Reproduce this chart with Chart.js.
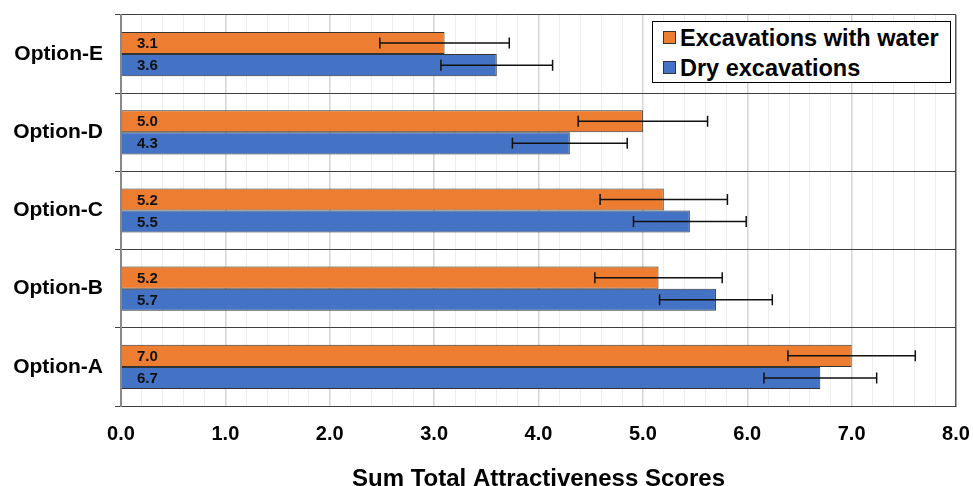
<!DOCTYPE html>
<html lang="en">
<head>
  <meta charset="UTF-8" />
  <title>Sum Total Attractiveness Scores</title>
  <script src="https://cdn.jsdelivr.net/npm/chart.js"></script>
  <style>
    body {
      margin: 0;
      background-color: #ffffff;
      font-family: "Liberation Sans", Arial, sans-serif;
    }
    .wrap {
      position: relative;
      width: 973px;
      height: 486px;
    }
    .legend {
      position: absolute;
      left: 652px;
      top: 21px;
      width: 297px;
      height: 60px;
      border: 1px solid #000;
      background: #fff;
      box-sizing: content-box;
    }
    .legend .item {
      position: absolute;
      left: 10px;
      font-weight: bold;
      font-size: 23.5px;
      color: #000;
      white-space: nowrap;
      line-height: 26px;
    }
    .legend .swatch {
      display: inline-block;
      width: 11px;
      height: 11px;
      border: 1px solid #333;
      margin-right: 4px;
      vertical-align: 2px;
    }
  </style>
</head>
<body>
  <div class="wrap">
    <canvas id="scoreChart"></canvas>
    <div class="legend" id="legend"></div>
  </div>

  <script>
    const categories = ["Option-E", "Option-D", "Option-C", "Option-B", "Option-A"];
    const seriesNames = ["Excavations with water", "Dry excavations"];
    const waterScores = [3.1, 5.0, 5.2, 5.15, 7.0];
    const dryScores = [3.6, 4.3, 5.45, 5.7, 6.7];
    const waterErrors = [0.62, 0.62, 0.61, 0.61, 0.61];
    const dryErrors = [0.535, 0.55, 0.54, 0.54, 0.54];
    const seriesColors = ["#ED7D31", "#4472C4"];
    const xMin = 0, xMax = 8, minorStep = 0.2;

    const isWhole = v => Math.abs(v - Math.round(v)) < 1e-6;

    // legend box (html so it can sit inside the plot with a border)
    const legendEl = document.getElementById("legend");
    seriesNames.forEach((name, i) => {
      const item = document.createElement("div");
      item.className = "item";
      item.style.top = (3 + i * 30) + "px";
      item.innerHTML = `<span class="swatch" style="background:${seriesColors[i]}"></span>${name}`;
      legendEl.appendChild(item);
    });

    // value labels at the left end of each bar
    const valueLabels = {
      id: "valueLabels",
      afterDatasetsDraw(chart) {
        const ctx = chart.ctx;
        const x0 = chart.scales.x.getPixelForValue(0);
        ctx.save();
        ctx.font = "bold 15px 'Liberation Sans', Arial, sans-serif";
        ctx.fillStyle = "#111";
        ctx.textAlign = "left";
        ctx.textBaseline = "middle";
        chart.data.datasets.forEach((ds, di) => {
          chart.getDatasetMeta(di).data.forEach((bar, i) => {
            const v = Math.round(ds.data[i] * 10) / 10;
            ctx.fillText(v.toFixed(1), x0 + 16, bar.y + 1);
          });
        });
        ctx.restore();
      }
    };

    // error bars drawn with the x scale
    const errorBars = {
      id: "errorBars",
      afterDatasetsDraw(chart) {
        const ctx = chart.ctx;
        const xs = chart.scales.x;
        ctx.save();
        ctx.strokeStyle = "#111";
        ctx.lineWidth = 1.5;
        chart.data.datasets.forEach((ds, di) => {
          chart.getDatasetMeta(di).data.forEach((bar, i) => {
            const lo = xs.getPixelForValue(ds.data[i] - ds.errors[i]);
            const hi = xs.getPixelForValue(ds.data[i] + ds.errors[i]);
            const y = bar.y;
            ctx.beginPath();
            ctx.moveTo(lo, y); ctx.lineTo(hi, y);
            ctx.moveTo(lo, y - 5.5); ctx.lineTo(lo, y + 5.5);
            ctx.moveTo(hi, y - 5.5); ctx.lineTo(hi, y + 5.5);
            ctx.stroke();
          });
        });
        ctx.restore();
      }
    };

    Chart.defaults.font.family = "'Liberation Sans', Arial, sans-serif";
    Chart.defaults.color = "#000";

    new Chart(document.getElementById("scoreChart"), {
      type: "bar",
      data: {
        labels: categories,
        datasets: [
          {
            label: seriesNames[0],
            data: waterScores,
            errors: waterErrors,
            backgroundColor: seriesColors[0],
            borderColor: "#333",
            borderWidth: 1,
          },
          {
            label: seriesNames[1],
            data: dryScores,
            errors: dryErrors,
            backgroundColor: seriesColors[1],
            borderColor: "#333",
            borderWidth: 1,
          },
        ],
      },
      options: {
        indexAxis: "y",
        responsive: true,
        maintainAspectRatio: false,
        animation: false,
        categoryPercentage: 0.565,
        barPercentage: 1.0,
        layout: { padding: { top: 15, right: 17, left: 0, bottom: 0 } },
        plugins: {
          legend: { display: false },
          tooltip: { enabled: false },
        },
        scales: {
          x: {
            min: xMin,
            max: xMax,
            afterFit: s => {
              s.height = 80;
              s.paddingLeft = 0;
              s.paddingRight = 0;
            },
            ticks: {
              stepSize: minorStep,
              autoSkip: false,
              maxRotation: 0,
              padding: 16,
              font: { size: 20, weight: "bold" },
              callback: v => (isWhole(v) ? v.toFixed(1) : ""),
            },
            grid: {
              drawTicks: false,
              color: c => {
                const v = c.tick.value;
                if (Math.abs(v - xMax) < 1e-6) return "#555";
                if (Math.abs(v - xMin) < 1e-6) return "#888";
                return isWhole(v) ? "#d6d6d6" : "#ededed";
              },
              lineWidth: c => (isWhole(c.tick.value) ? 1.5 : 1),
            },
            border: { display: true, color: "#404040", width: 1 },
            title: {
              display: true,
              text: "Sum Total Attractiveness Scores",
              font: { size: 24, weight: "bold" },
              padding: { top: 0, bottom: -8 },
            },
          },
          y: {
            afterFit: s => {
              s.width = 121;
              s.paddingTop = 0;
              s.paddingBottom = 0;
            },
            ticks: {
              padding: 12,
              font: { size: 21, weight: "bold" },
            },
            grid: {
              offset: true,
              color: "#404040",
              lineWidth: 1,
              tickLength: 6,
            },
            border: { display: true, color: "#888", width: 2 },
          },
        },
      },
      plugins: [errorBars, valueLabels],
    });
  </script>
</body>
</html>
